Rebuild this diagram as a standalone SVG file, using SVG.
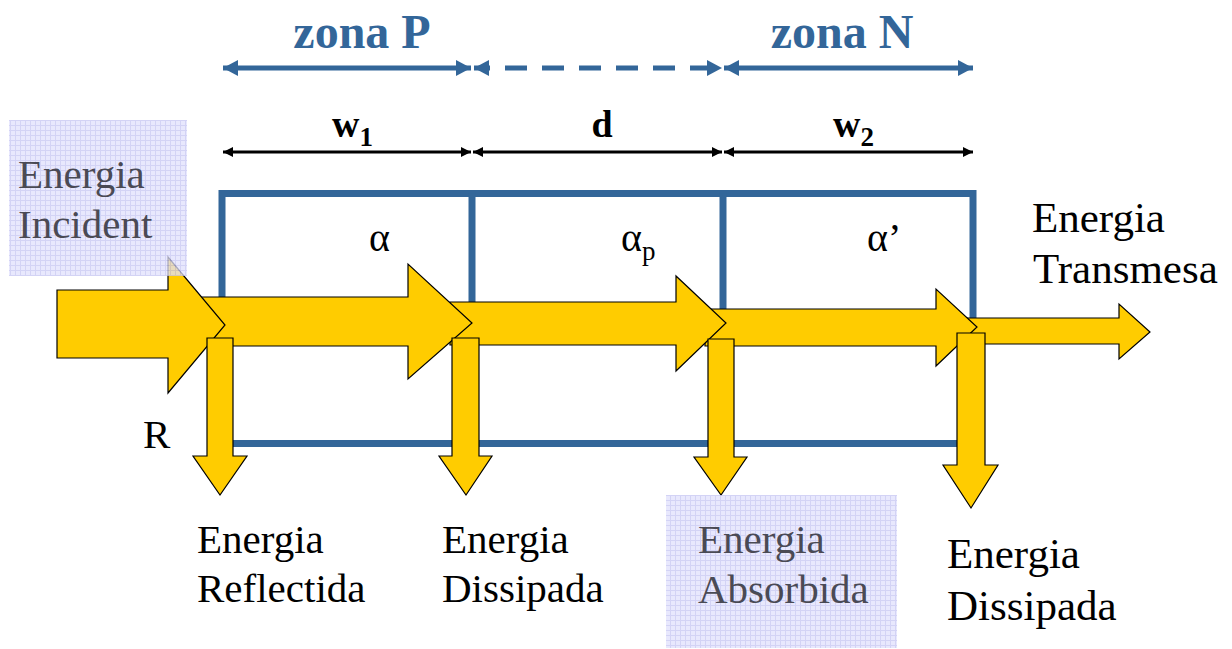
<svg xmlns="http://www.w3.org/2000/svg" width="1232" height="649" viewBox="0 0 1232 649">
  <style>
    .t { font-family: "Liberation Serif", "Times New Roman", serif; fill: #000; }
    .big { font-size: 41px; }
    .big43 { font-size: 43px; }
    .gray { fill: #4a4a55; }
    .zone { font-family: "Liberation Serif", serif; font-weight: bold; font-size: 48px; fill: #336699; text-anchor: middle; }
    .dim { font-family: "Liberation Serif", serif; font-weight: bold; font-size: 38px; fill: #000; }
    .arrow { fill: #FFCC00; stroke: #000; stroke-width: 1.2; stroke-linejoin: miter; }
    .frame { fill: none; stroke: #336699; stroke-width: 7; }
    .blue { stroke: #336699; stroke-width: 5; fill: none; }
    .black { stroke: #000; stroke-width: 3; fill: none; }
    .note { fill: url(#grid); opacity: 0.75; }
  </style>
  <defs>
    <pattern id="grid" width="5" height="5" patternUnits="userSpaceOnUse">
      <rect width="5" height="5" fill="#E0E0FC"/>
      <path d="M0,0.5 H5 M0.5,0 V5" stroke="#C4C4F2" stroke-width="1"/>
    </pattern>
    <marker id="bh" markerUnits="userSpaceOnUse" markerWidth="16" markerHeight="16" refX="15" refY="8" orient="auto-start-reverse">
      <path d="M0,0 L15,8 L0,16 z" fill="#336699"/>
    </marker>
    <marker id="kh" markerUnits="userSpaceOnUse" markerWidth="11" markerHeight="11" refX="10" refY="5" orient="auto-start-reverse">
      <path d="M0,0 L10,5 L0,10 z" fill="#000"/>
    </marker>
  </defs>
  <rect width="1232" height="649" fill="#fff"/>

  <g id="cell">
    <rect class="frame" x="222" y="193.5" width="751" height="250"/>
    <line class="frame" x1="472" y1="193.5" x2="472" y2="443.5"/>
    <line class="frame" x1="723" y1="193.5" x2="723" y2="443.5"/>
  </g>

  <g id="dimensions">
    <line class="blue" x1="223" y1="68" x2="471" y2="68" marker-start="url(#bh)" marker-end="url(#bh)"/>
    <line class="blue" x1="474" y1="68" x2="722" y2="68" stroke-dasharray="22 15" stroke-dashoffset="6" marker-start="url(#bh)" marker-end="url(#bh)"/>
    <line class="blue" x1="724" y1="68" x2="973" y2="68" marker-start="url(#bh)" marker-end="url(#bh)"/>
    <line class="black" x1="223" y1="152" x2="471" y2="152" marker-start="url(#kh)" marker-end="url(#kh)"/>
    <line class="black" x1="473" y1="152" x2="722" y2="152" marker-start="url(#kh)" marker-end="url(#kh)"/>
    <line class="black" x1="724" y1="152" x2="973" y2="152" marker-start="url(#kh)" marker-end="url(#kh)"/>
  </g>

  <g id="connectors">
    <polygon class="arrow" points="955,318 1119,318 1119,304 1150,332 1119,359 1119,344 955,344"/>
    <polygon class="arrow" points="705,309 936,309 936,289 977,327 936,366 936,346 705,346"/>
    <polygon class="arrow" points="450,302 676,302 676,276 726,323 676,371 676,345 450,345"/>
    <polygon class="arrow" points="200,297 408,297 408,264 472,323 408,379 408,346 200,346"/>
    <polygon class="arrow" points="57,290 168,290 168,257 225,325 168,393 168,358 57,358"/>
    <polygon class="arrow" points="207,338 233,338 233,456 247,456 220,495 193,456 207,456"/>
    <polygon class="arrow" points="452,338 479,338 479,456 492,456 466,495 439,456 452,456"/>
    <polygon class="arrow" points="708,339 734,339 734,457 747,457 721,495 694,457 708,457"/>
    <polygon class="arrow" points="957,333 985,333 985,465 998,465 971,508 943,465 957,465"/>
  </g>

  <g id="labels-top">
    <text class="zone" x="362" y="48">zona P</text>
    <text class="zone" x="842" y="48">zona N</text>
    <text class="dim" x="332" y="137">w<tspan font-size="27" dy="9">1</tspan></text>
    <text class="dim" x="602" y="137" text-anchor="middle">d</text>
    <text class="dim" x="833" y="137">w<tspan font-size="27" dy="9">2</tspan></text>
  </g>

  <g id="coefficients">
    <text class="t" x="369" y="251" font-size="40">α</text>
    <text class="t" x="621" y="251" font-size="40">α<tspan font-size="27" dy="9">p</tspan></text>
    <text class="t" x="867" y="251" font-size="40">α’</text>
  </g>

  <g id="incident">
    <rect class="note" x="9" y="120" width="178" height="156"/>
    <text class="t big gray" x="18" y="188">Energia</text>
    <text class="t big gray" x="18" y="238">Incident</text>
  </g>

  <g id="transmesa">
    <text class="t big43" x="1032" y="232">Energia</text>
    <text class="t big43" x="1033" y="283">Transmesa</text>
  </g>

  <g id="reflectida">
    <text class="t big" x="143" y="448">R</text>
    <text class="t big" x="197" y="553">Energia</text>
    <text class="t big" x="197" y="602">Reflectida</text>
  </g>

  <g id="dissipada1">
    <text class="t big" x="442" y="553">Energia</text>
    <text class="t big" x="442" y="602">Dissipada</text>
  </g>

  <g id="absorbida">
    <rect class="note" x="666" y="495" width="231" height="153"/>
    <text class="t big gray" x="698" y="553">Energia</text>
    <text class="t big gray" x="698" y="603">Absorbida</text>
  </g>

  <g id="dissipada2">
    <text class="t big43" x="947" y="568">Energia</text>
    <text class="t big43" x="947" y="620">Dissipada</text>
  </g>
</svg>
